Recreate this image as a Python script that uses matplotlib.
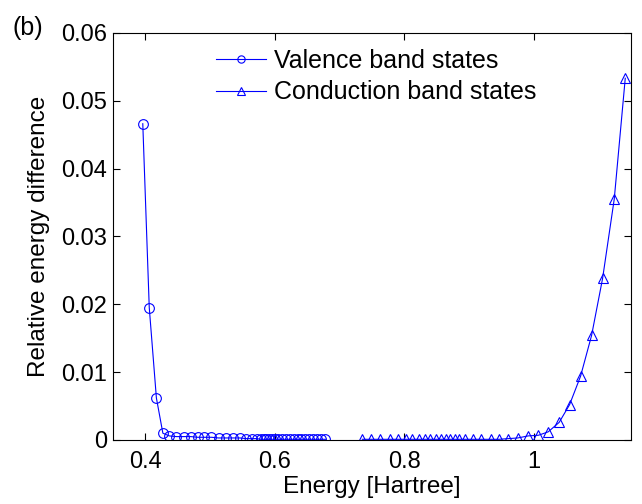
import matplotlib
matplotlib.use("Agg")
import matplotlib.pyplot as plt

plt.rcParams['font.family'] = ['Liberation Sans', 'DejaVu Sans']

valence_energy = [0.396, 0.406, 0.417, 0.427, 0.437, 0.448, 0.459, 0.470, 0.481,
                  0.491, 0.502, 0.513, 0.524, 0.535, 0.546, 0.556, 0.565, 0.572,
                  0.578, 0.583, 0.587, 0.591, 0.595, 0.600, 0.605, 0.611, 0.617,
                  0.623, 0.629, 0.635, 0.641, 0.647, 0.653, 0.659, 0.665, 0.671, 0.678]
valence_diff = [0.0466, 0.0195, 0.0062, 0.0010, 0.0006, 0.0005, 0.0005, 0.0005, 0.0004,
                0.0004, 0.0004, 0.0003, 0.0003, 0.0003, 0.0003, 0.0002, 0.0002, 0.0002,
                0.0001, 0.0001, 0.0001, 0.0001, 0.0001, 0.0001, 0.0001, 0.0001, 0.0001,
                0.0001, 0.0001, 0.0001, 0.0001, 0.0001, 0.0001, 0.0001, 0.0001, 0.0001, 0.0001]

conduction_energy = [0.735, 0.749, 0.763, 0.777, 0.790, 0.803, 0.812, 0.822, 0.832,
                     0.840, 0.848, 0.856, 0.864, 0.871, 0.878, 0.884, 0.893, 0.906,
                     0.919, 0.933, 0.946, 0.960, 0.975, 0.991, 1.007, 1.022, 1.039,
                     1.055, 1.072, 1.089, 1.106, 1.124, 1.141]
conduction_diff = [0.0001, 0.0001, 0.0001, 0.0001, 0.0001, 0.0001, 0.0001, 0.0001, 0.0001,
                   0.0001, 0.0001, 0.0001, 0.0001, 0.0001, 0.0001, 0.0001, 0.0001, 0.0001,
                   0.0001, 0.0001, 0.0001, 0.0002, 0.0003, 0.0006, 0.0007, 0.0012, 0.0026,
                   0.0052, 0.0094, 0.0154, 0.0238, 0.0355, 0.0533]

xticks = [0.4, 0.6, 0.8, 1.0]
xtick_labels = ['0.4', '0.6', '0.8', '1']
yticks = [0, 0.01, 0.02, 0.03, 0.04, 0.05, 0.06]
ytick_labels = ['0', '0.01', '0.02', '0.03', '0.04', '0.05', '0.06']

fig = plt.figure(figsize=(6.42, 5.04), dpi=100)
ax = fig.add_axes([0.176, 0.127, 0.807, 0.808])

ax.plot(valence_energy, valence_diff, color='blue', lw=0.8, marker='o', ms=7,
        mfc='none', mec='blue', mew=0.8, label='Valence band states')
ax.plot(conduction_energy, conduction_diff, color='blue', lw=0.8, marker='^', ms=7,
        mfc='none', mec='blue', mew=0.8, label='Conduction band states')

ax.set_xlim(0.35, 1.15)
ax.set_ylim(0, 0.06)
ax.set_xticks(xticks)
ax.set_xticklabels(xtick_labels)
ax.set_yticks(yticks)
ax.set_yticklabels(ytick_labels)
ax.tick_params(direction='in', top=True, right=True, labelsize=17, length=5, width=0.8)
ax.tick_params(axis='x', pad=8)
ax.tick_params(axis='y', pad=4)
for s in ax.spines.values():
    s.set_linewidth(0.8)

ax.set_xlabel('Energy [Hartree]', fontsize=17.5, labelpad=2)
ax.set_ylabel('Relative energy difference', fontsize=17.5, labelpad=8)

leg = ax.legend(loc='upper left', bbox_to_anchor=(0.18, 0.985), frameon=False,
                fontsize=18, handlelength=2.0, handletextpad=0.3, labelspacing=0.3,
                markerscale=0.75, borderaxespad=0)

fig.text(0.02, 0.93, '(b)', fontsize=18)

fig.savefig('out.png', dpi=100)
